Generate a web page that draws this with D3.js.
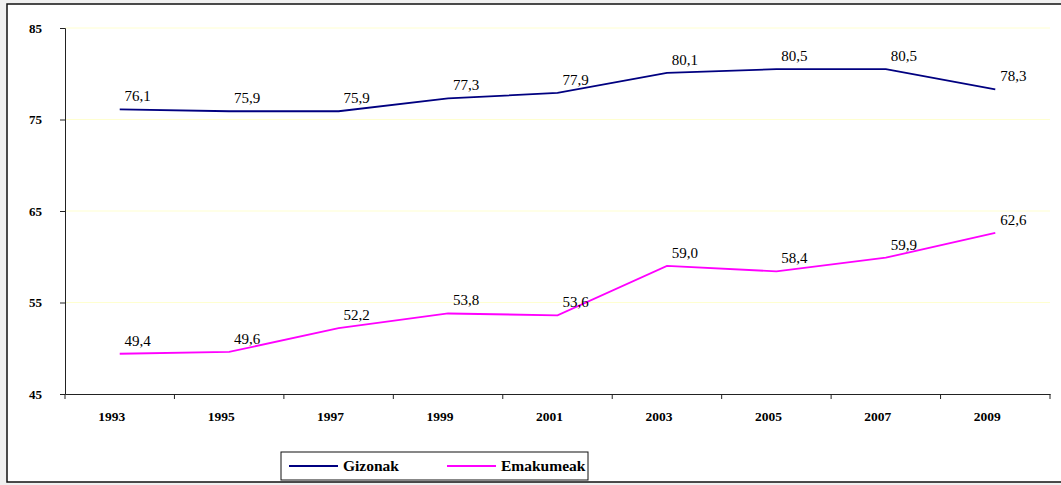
<!DOCTYPE html>
<html>
<head>
<meta charset="utf-8">
<script src="https://cdn.jsdelivr.net/npm/d3@7"></script>
<style>
  body { margin: 0; background: #f0f0f0; }
  svg { display: block; }
  svg text { font-family: "Liberation Serif", "Times New Roman", serif; }
</style>
</head>
<body>
<div id="container"></div>
<script>
const years = ["1993", "1995", "1997", "1999", "2001", "2003", "2005", "2007", "2009"]
const gizonak = [76.1, 75.9, 75.9, 77.3, 77.9, 80.1, 80.5, 80.5, 78.3]
const emakumeak = [49.4, 49.6, 52.2, 53.8, 53.6, 59.0, 58.4, 59.9, 62.6]
const yTicks = [45, 55, 65, 75, 85]

const series = [
    {name: "Gizonak", values: gizonak, color: "#000080"},
    {name: "Emakumeak", values: emakumeak, color: "#ff00ff"}
]

const serif = "Liberation Serif, Times New Roman, serif"
const width = 1061
const height = 485
const margin = {top: 28, bottom: 91, left: 65, right: 11}

const svg = d3.select("#container").append("svg")
    .attr("width", width)
    .attr("height", height)

// white chart area with its frame
svg.append("rect")
    .attr("x", 7).attr("y", 4)
    .attr("width", width).attr("height", 478)
    .attr("fill", "white")
    .attr("stroke", "#111")
    .attr("stroke-width", 1.5)

const x = d3.scaleBand()
    .domain(years)
    .range([margin.left, width - margin.right])

const y = d3.scaleLinear()
    .domain([45, 85])
    .range([height - margin.bottom, margin.top])

// grid
svg.append("g")
    .selectAll("line")
    .data(yTicks.filter(d => d > 45))
    .enter().append("line")
    .attr("x1", margin.left).attr("x2", width - margin.right)
    .attr("y1", d => y(d)).attr("y2", d => y(d))
    .attr("stroke", "#ffffd0")
    .attr("stroke-width", 1)

const yAxis = svg.append("g")
    .attr("transform", `translate(${margin.left}, 0)`)
    .call(d3.axisLeft(y).tickValues(yTicks).tickSize(5).tickPadding(18))
yAxis.attr("font-family", null)
yAxis.select(".domain").attr("stroke", "#222")
yAxis.selectAll(".tick line").attr("stroke", "#222")
yAxis.selectAll("text")
    .style("font-family", serif)
    .style("font-weight", "bold")
    .style("font-size", "13px")
    .attr("fill", "#000")

const xAxis = svg.append("g")
    .attr("transform", `translate(0, ${height - margin.bottom})`)
    .call(d3.axisBottom(x).tickSize(0).tickPadding(17))
xAxis.attr("font-family", null)
xAxis.select(".domain").attr("stroke", "#222")
xAxis.selectAll("text")
    .attr("dx", -8)
    .style("font-family", serif)
    .style("font-weight", "bold")
    .style("font-size", "13.5px")
    .attr("fill", "#000")

// ticks between categories
const bounds = years.map(d => x(d)).concat([x(years[years.length - 1]) + x.bandwidth()])
svg.append("g")
    .selectAll("line")
    .data(bounds)
    .enter().append("line")
    .attr("x1", d => d).attr("x2", d => d)
    .attr("y1", height - margin.bottom).attr("y2", height - margin.bottom + 5)
    .attr("stroke", "#222")

const line = d3.line()
    .x((d, i) => x(years[i]) + x.bandwidth() / 2)
    .y(d => y(d))

series.forEach(s => {
    svg.append("path")
        .datum(s.values)
        .attr("fill", "none")
        .attr("stroke", s.color)
        .attr("stroke-width", 1.8)
        .attr("d", line)

    svg.append("g")
        .selectAll("text")
        .data(s.values)
        .enter().append("text")
        .attr("x", (d, i) => x(years[i]) + x.bandwidth() / 2 + 18)
        .attr("y", d => y(d) - 8)
        .attr("text-anchor", "middle")
        .style("font-family", serif)
        .style("font-size", "15px")
        .attr("fill", "#000")
        .text(d => d.toFixed(1).replace(".", ","))
})

// legend
const legend = svg.append("g")
    .attr("transform", "translate(281, 452)")

legend.append("rect")
    .attr("width", 307).attr("height", 28)
    .attr("fill", "white")
    .attr("stroke", "#111")
    .attr("stroke-width", 1)

const legendItems = legend.selectAll(".item")
    .data(series)
    .enter().append("g")
    .attr("class", "item")
    .attr("transform", (d, i) => `translate(${8 + i * 158}, 14)`)

legendItems.append("line")
    .attr("x1", 0).attr("x2", 49)
    .attr("stroke", d => d.color)
    .attr("stroke-width", 1.8)

legendItems.append("text")
    .attr("x", 54)
    .attr("y", 5)
    .style("font-family", serif)
    .style("font-weight", "bold")
    .style("font-size", "15.5px")
    .attr("fill", "#000")
    .text(d => d.name)
</script>
</body>
</html>
